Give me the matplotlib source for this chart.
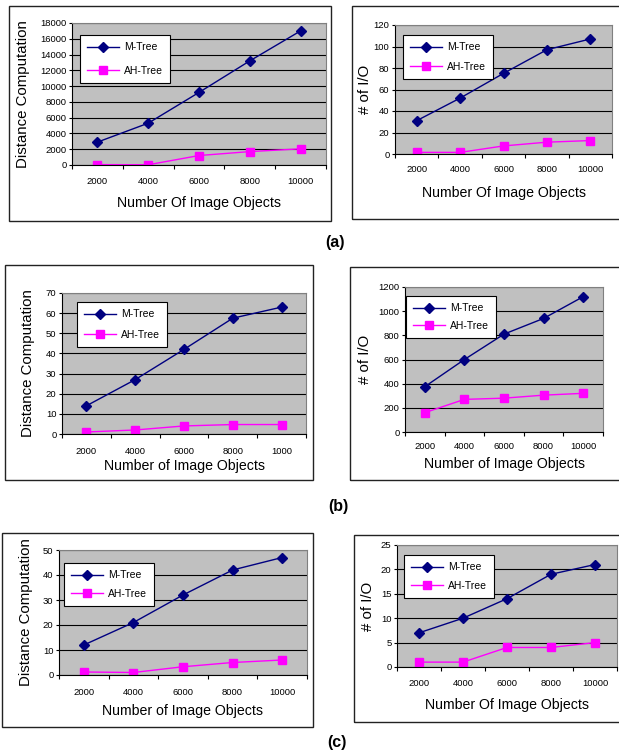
import matplotlib
matplotlib.use("Agg")
import matplotlib.pyplot as plt
from matplotlib.patches import Rectangle

plt.rcParams['font.family'] = ['Liberation Sans', 'DejaVu Sans']

# data
x_labels_a = ['2000', '4000', '6000', '8000', '10000']
x_labels_b = ['2000', '4000', '6000', '8000', '1000']   # typo in the original
x_labels_c = ['2000', '4000', '6000', '8000', '10000']

dist_a_mtree = [2900, 5300, 9200, 13200, 17000]
dist_a_ahtree = [50, 30, 1200, 1700, 2050]
io_a_mtree = [31, 52, 75, 97, 107]
io_a_ahtree = [1.5, 1.5, 7.5, 11, 12.5]

dist_b_mtree = [14, 27, 42, 57.5, 63]
dist_b_ahtree = [1, 2, 4, 4.7, 4.7]
io_b_mtree = [375, 600, 810, 940, 1120]
io_b_ahtree = [160, 270, 280, 305, 320]

dist_c_mtree = [12, 21, 32, 42, 47]
dist_c_ahtree = [1.2, 1, 3.3, 5, 6]
io_c_mtree = [7, 10, 14, 19, 21]
io_c_ahtree = [1, 1, 4, 4, 5]

W, H = 619, 756
fig = plt.figure(figsize=(W / 100, H / 100), dpi=100)


def frac(l, t, r, b):
    return [l / W, 1 - b / H, (r - l) / W, (b - t) / H]


def panel(rect, box, mtree, ahtree, xlabels, ymax, ystep, ylabel, xlabel,
          leg_xy, leg_space, ylab_x, xlab_y, xpad):
    l, t, r, b = rect
    # outer frame around each chart
    bl, bt, br, bb = box
    fig.patches.append(Rectangle((bl / W, 1 - bb / H), (br - bl) / W, (bb - bt) / H,
                                 transform=fig.transFigure, fill=False,
                                 edgecolor='#222222', linewidth=1.0))
    ax = fig.add_axes(frac(l, t, r, b))
    ax.set_facecolor('#c0c0c0')
    xs = list(range(len(mtree)))
    ax.plot(xs, mtree, color='#000080', marker='D', markersize=5, linewidth=1.0,
            label='M-Tree')
    ax.plot(xs, ahtree, color='#ff00ff', marker='s', markersize=5.4, linewidth=1.0,
            label='AH-Tree')
    ax.set_xlim(-0.5, len(mtree) - 0.5)
    ax.set_ylim(0, ymax)
    ax.set_yticks(range(0, ymax + 1, ystep))
    ax.yaxis.grid(True, color='black', linewidth=0.8)
    ax.set_axisbelow(True)
    ax.set_xticks(xs)
    ax.set_xticklabels(xlabels)
    ax.set_xticks([i - 0.5 for i in range(len(mtree) + 1)], minor=True)
    ax.tick_params(axis='x', which='major', length=0, pad=xpad, labelsize=6.8)
    ax.tick_params(axis='x', which='minor', length=3, width=0.8, direction='out')
    ax.tick_params(axis='y', length=2.5, width=0.8, pad=1.5, labelsize=6.8)
    for s in ['left', 'bottom']:
        ax.spines[s].set_color('black')
        ax.spines[s].set_linewidth(0.8)
    for s in ['top', 'right']:
        ax.spines[s].set_color('#808080')
        ax.spines[s].set_linewidth(0.8)

    ax.set_ylabel(ylabel, fontsize=10.8, va='center')
    ax.yaxis.set_label_coords((ylab_x - l) / (r - l), 0.5)
    ax.set_xlabel(xlabel, fontsize=10.2, va='center')
    ax.xaxis.set_label_coords(0.5, -(xlab_y - b) / (b - t))

    leg = ax.legend(loc='upper left', bbox_to_anchor=(leg_xy[0] / W, 1 - leg_xy[1] / H),
                    bbox_transform=fig.transFigure, borderaxespad=0, fontsize=7.5,
                    frameon=True, fancybox=False, edgecolor='black', framealpha=1,
                    handlelength=3.0, handletextpad=0.5, labelspacing=leg_space,
                    borderpad=0.7)
    leg.get_frame().set_linewidth(0.8)
    return ax


panel((72, 23, 326, 165), (9, 6, 331, 221), dist_a_mtree, dist_a_ahtree, x_labels_a,
      18000, 2000, 'Distance Computation', 'Number Of Image Objects',
      (80, 35), 1.3, 23, 203, 8.5)
panel((395, 25, 612, 154), (352, 6, 630, 219), io_a_mtree, io_a_ahtree, x_labels_a,
      120, 20, '# of I/O', 'Number Of Image Objects',
      (403, 35), 0.9, 365, 193, 8.0)
panel((62, 293, 306, 434), (5, 265, 313, 480), dist_b_mtree, dist_b_ahtree, x_labels_b,
      70, 10, 'Distance Computation', 'Number of Image Objects',
      (77, 302), 1.0, 28, 466, 9.5)
panel((405, 287, 603, 432), (350, 267, 630, 480), io_b_mtree, io_b_ahtree, x_labels_c,
      1200, 200, '# of I/O', 'Number of Image Objects',
      (406, 296), 0.75, 365, 464, 7.3)
panel((59, 550, 307, 675), (2, 533, 313, 727), dist_c_mtree, dist_c_ahtree, x_labels_c,
      50, 10, 'Distance Computation', 'Number of Image Objects',
      (64, 563), 0.85, 26, 711, 9.5)
panel((397, 545, 617, 667), (354, 535, 630, 722), io_c_mtree, io_c_ahtree, x_labels_c,
      25, 5, '# of I/O', 'Number Of Image Objects',
      (404, 555), 0.85, 368, 705, 8.7)

for txt, px, py in [('(a)', 335, 243), ('(b)', 338, 507), ('(c)', 337, 743)]:
    fig.text(px / W, 1 - py / H, txt, ha='center', va='center', fontsize=11.5,
             fontweight='bold')

plt.savefig('out.png', dpi=100)
